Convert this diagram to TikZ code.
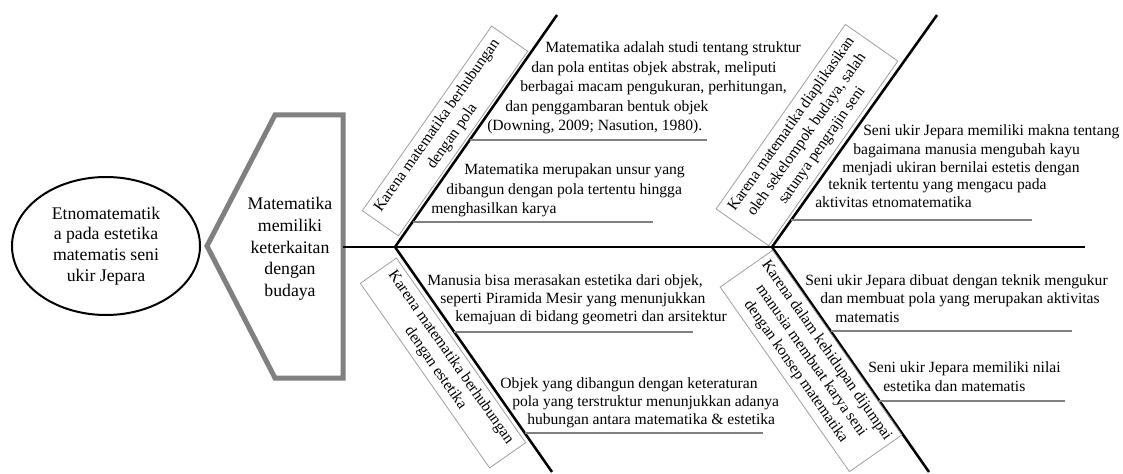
\documentclass[tikz,border=0pt]{standalone}
\usepackage{fontspec}
\setmainfont{Liberation Serif}
\usepackage{xcolor}
\usetikzlibrary{shapes.geometric}

\begin{document}
\begin{tikzpicture}[x=0.75pt, y=-0.75pt,
  spine/.style={line width=2.2pt, black},
  bone/.style={line width=1.9pt, black},
  rib/.style={line width=1.9pt, gray},
  tag/.style={draw=gray!75, line width=0.6pt, align=center, inner sep=3pt, minimum width=169pt, font=\fontsize{11.7}{14}\selectfont},
  txt/.style={anchor=base west, inner sep=0pt, font=\fontsize{11.7}{14}\selectfont}]
\useasboundingbox (0,0) rectangle (1123,474);

\node[draw, ellipse, line width=1.5pt, minimum width=141pt, minimum height=103.5pt, align=center, font=\fontsize{13.3}{15.5}\selectfont] (etno) at (106,246) {Etnomatematik\\a pada estetika\\matematis seni\\ukir Jepara};

\draw[line width=3.75pt, gray] (207,246) -- (275,115) -- (343,115) -- (343,378) -- (275,378) -- cycle;
\node[align=center, font=\fontsize{13.3}{16.3}\selectfont] (budaya) at (290,249) {Matematika\\memiliki\\keterkaitan\\dengan\\budaya};

\coordinate (head) at (343,247);
\coordinate (tail) at (1085,247);
\coordinate (j1) at (395,247);
\coordinate (j2) at (772,247);
\coordinate (pola) at (557,15);
\coordinate (seni) at (937,15);
\coordinate (estetika) at (552,472);
\coordinate (konsep) at (929,472);

\draw[spine] (head) -- (tail);
\draw[bone] (j1) -- (pola) coordinate[pos=0.461] (polaA) coordinate[pos=0.108] (polaB);
\draw[bone] (j2) -- (seni) coordinate[pos=0.116] (seniA);
\draw[bone] (j1) -- (estetika) coordinate[pos=0.378] (estetikaA) coordinate[pos=0.827] (estetikaB);
\draw[bone] (j2) -- (konsep) coordinate[pos=0.373] (konsepA) coordinate[pos=0.684] (konsepB);

\draw[rib] (polaA) -- ++(237,0);
\draw[rib] (polaB) -- ++(240,0);
\draw[rib] (seniA) -- ++(241,0);
\draw[rib] (estetikaA) -- ++(239,0);
\draw[rib] (estetikaB) -- ++(238,0);
\draw[rib] (konsepA) -- ++(241,0);
\draw[rib] (konsepB) -- ++(186,0);

\node[tag, rotate=55, minimum height=33pt] (tagpola) at (445,131) {Karena matematika berhubungan\\dengan pola};
\node[tag, rotate=55, minimum height=48pt] (tagseni) at (807,135) {Karena matematika diaplikasikan\\oleh sekelompok budaya, salah\\satunya pengrajin seni};
\node[tag, rotate=-55, minimum height=33pt] (tagestetika) at (443,363) {Karena matematika berhubungan\\dengan estetika};
\node[tag, rotate=-55, minimum height=48pt] (tagkonsep) at (811,361) {Karena dalam kehidupan dijumpai\\manusia membuat karya seni\\dengan konsep matematika};

\node[txt] (polaA1) at (545,53) {Matematika adalah studi tentang struktur};
\node[txt] (polaA2) at (531,73) {dan pola entitas objek abstrak, meliputi};
\node[txt] (polaA3) at (520,92) {berbagai macam pengukuran, perhitungan,};
\node[txt] (polaA4) at (505,112) {dan penggambaran bentuk objek};
\node[txt] (polaA5) at (487,131) {(Downing, 2009; Nasution, 1980).};
\node[txt] (polaB1) at (464,175) {Matematika merupakan unsur yang};
\node[txt] (polaB2) at (446,194) {dibangun dengan pola tertentu hingga};
\node[txt] (polaB3) at (431,213) {menghasilkan karya};

\node[txt] (seniA1) at (863,136) {Seni ukir Jepara memiliki makna tentang};
\node[txt] (seniA2) at (853,155) {bagaimana manusia mengubah kayu};
\node[txt] (seniA3) at (842,172) {menjadi ukiran bernilai estetis dengan};
\node[txt] (seniA4) at (828,190) {teknik tertentu yang mengacu pada};
\node[txt] (seniA5) at (815,207) {aktivitas etnomatematika};

\node[txt] (estetikaA1) at (427,285) {Manusia bisa merasakan estetika dari objek,};
\node[txt] (estetikaA2) at (440,303) {seperti Piramida Mesir yang menunjukkan};
\node[txt] (estetikaA3) at (455,321) {kemajuan di bidang geometri dan arsitektur};
\node[txt] (estetikaB1) at (500,388) {Objek yang dibangun dengan keteraturan};
\node[txt] (estetikaB2) at (512,406) {pola yang terstruktur menunjukkan adanya};
\node[txt] (estetikaB3) at (527,424) {hubungan antara matematika \& estetika};

\node[txt] (konsepA1) at (805,285) {Seni ukir Jepara dibuat dengan teknik mengukur};
\node[txt] (konsepA2) at (820,303) {dan membuat pola yang merupakan aktivitas};
\node[txt] (konsepA3) at (835,322) {matematis};
\node[txt] (konsepB1) at (868,372) {Seni ukir Jepara memiliki nilai};
\node[txt] (konsepB2) at (883,391) {estetika dan matematis};

\end{tikzpicture}
\end{document}
